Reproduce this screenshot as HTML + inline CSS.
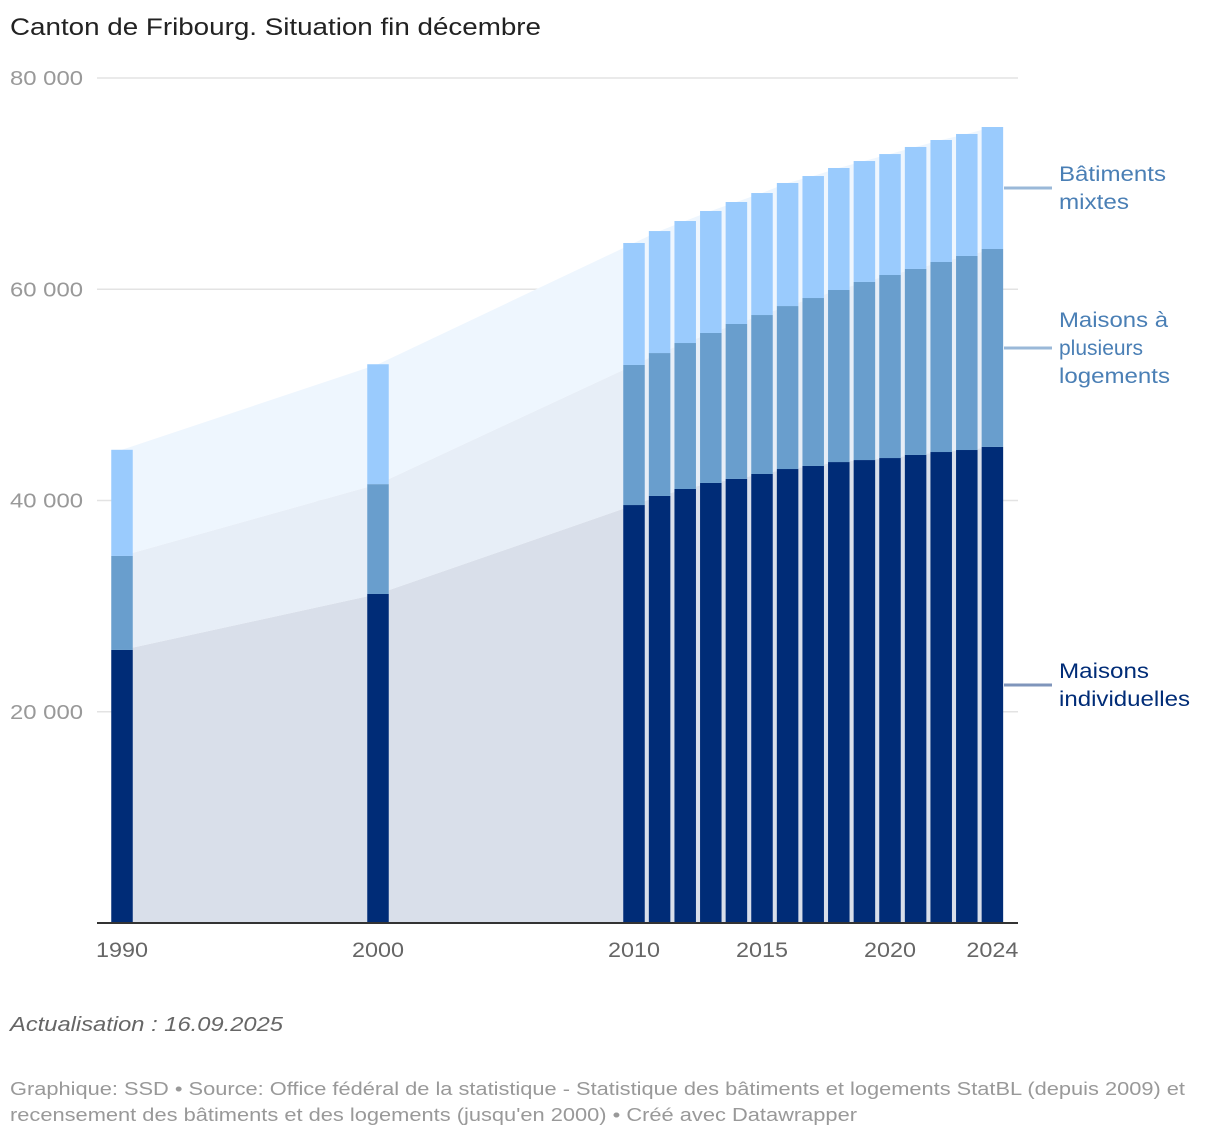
<!DOCTYPE html>
<html><head><meta charset="utf-8"><style>
body{margin:0;background:#fff;width:1220px;height:1138px;overflow:hidden;font-family:"Liberation Sans",sans-serif}
</style></head><body>
<svg width="1220" height="1138" style="position:absolute;left:0;top:0">
<text x="10" y="35" font-size="24" fill="#222" textLength="531" lengthAdjust="spacingAndGlyphs">Canton de Fribourg. Situation fin décembre</text>
<g id="grid"></g><g id="areas"></g><g id="bars"></g><g id="xaxis"></g><g id="legend"></g>
<text x="10" y="1031" font-size="20" font-style="italic" fill="#666" textLength="273" lengthAdjust="spacingAndGlyphs">Actualisation : 16.09.2025</text>
<text x="10" y="1095" font-size="18" fill="#999" textLength="1175" lengthAdjust="spacingAndGlyphs">Graphique: SSD • Source: Office fédéral de la statistique - Statistique des bâtiments et logements StatBL (depuis 2009) et</text>
<text x="10" y="1121" font-size="18" fill="#999" textLength="847" lengthAdjust="spacingAndGlyphs">recensement des bâtiments et des logements (jusqu'en 2000) • Créé avec Datawrapper</text>
</svg>
<script>
const years=[1990,2000,2010,2011,2012,2013,2014,2015,2016,2017,2018,2019,2020,2021,2022,2023,2024];
const individuelles=[25850,31150,39570,40430,41090,41660,42040,42510,42980,43270,43640,43830,44020,44310,44590,44780,45070];
const plusieurs=[8900,10400,13260,13530,13820,14200,14670,15050,15430,15900,16290,16860,17330,17610,17990,18370,18740];
const mixtes=[10050,11350,11550,11550,11550,11550,11550,11550,11650,11550,11550,11450,11450,11550,11550,11550,11550];
const yTicks=[20000,40000,60000,80000];
const yTickLabels=["20 000","40 000","60 000","80 000"];
const xTicks=[1990,2000,2010,2015,2020,2024];
const NS="http://www.w3.org/2000/svg";
const y=v=>923-v*845/80000;
const x=yr=>634+(yr-2010)*25.6;
const BW=21.5;
function mk(tag,attrs,parent){const e=document.createElementNS(NS,tag);for(const k in attrs)e.setAttribute(k,attrs[k]);document.getElementById(parent).appendChild(e);return e;}
yTicks.forEach((t,i)=>{
 const l=mk('line',{x1:97,x2:1018,y1:y(t),y2:y(t),stroke:'#e3e3e3','stroke-width':1.5},'grid');
 
 
 const tx=mk('text',{x:10,y:y(t)+7,'font-size':20,fill:'#999',textLength:73,lengthAdjust:'spacingAndGlyphs'},'grid');tx.textContent=yTickLabels[i];
 
 
});
const c1=individuelles, c2=individuelles.map((v,i)=>v+plusieurs[i]), c3=c2.map((v,i)=>v+mixtes[i]);
function area(lo,hi,color,name){
 let pts=years.map((yr,i)=>x(yr)+','+y(hi[i]));
 for(let i=years.length-1;i>=0;i--)pts.push(x(years[i])+','+y(lo?lo[i]:0));
 const p=mk('polygon',{points:pts.join(' '),fill:color},'areas');
 
 
}
area(null,c1,'#d9dfea','area-individuelles');
area(c1,c2,'#e7eef7','area-plusieurs');
area(c2,c3,'#eef6fe','area-mixtes');
years.forEach((yr,i)=>{
 const segs=[[0,c1[i],'#002c77','bar-individuelles'],[c1[i],c2[i],'#699ecd','bar-plusieurs'],[c2[i],c3[i],'#9acbfd','bar-mixtes']];
 segs.forEach(s=>{
  const r=mk('rect',{x:x(yr)-BW/2,y:y(s[1]),width:BW,height:y(s[0])-y(s[1]),fill:s[2]},'bars');
  
  
 });
});
const ax=mk('line',{x1:97,x2:1018,y1:923,y2:923,stroke:'#333','stroke-width':2},'xaxis');


xTicks.forEach(t=>{
 let cx=x(t);
 const tx=mk('text',{x:cx,y:957,'font-size':21,fill:'#666','text-anchor':'middle',textLength:52,lengthAdjust:'spacingAndGlyphs'},'xaxis');tx.textContent=t;
 
 
});
const last=years.length-1;
const legend=[[['Bâtiments','mixtes'],[107,70],(c2[last]+c3[last])/2,'#4a7fb5','#9ab8d8','legend-mixtes'],
 [['Maisons à','plusieurs','logements'],[109,0,111],(c1[last]+c2[last])/2,'#4a7fb5','#9ab8d8','legend-plusieurs'],
 [['Maisons','individuelles'],[90,131],c1[last]/2,'#002c77','#7f95bb','legend-individuelles']];
legend.forEach(L=>{
 const ly=y(L[2]);
 const ln=mk('line',{x1:1004,x2:1052,y1:ly,y2:ly,stroke:L[4],'stroke-width':3},'legend');
 
 
 const n=L[0].length, top=ly-(n-1)*14+7;
 L[0].forEach((s,j)=>{
  const at={x:1059,y:top+j*28,'font-size':21,fill:L[3]};
  if(L[1][j]){at.textLength=L[1][j];at.lengthAdjust='spacingAndGlyphs';}
  const tx=mk('text',at,'legend');tx.textContent=s;
  
  
 });
});
</script>
</body></html>
